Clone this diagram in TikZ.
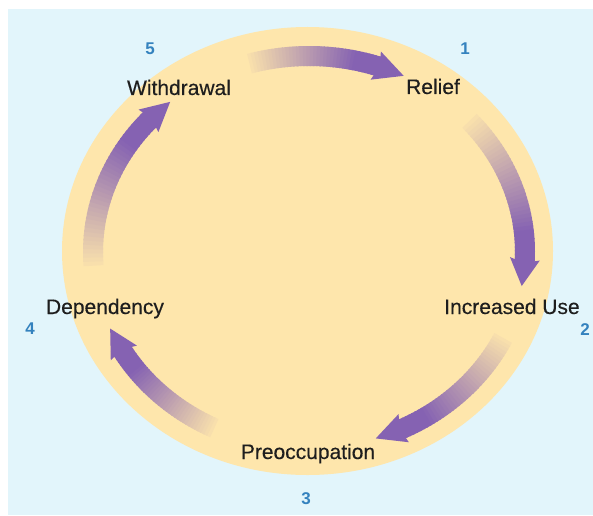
\documentclass[tikz,border=0pt]{standalone}
\usepackage{fontspec}
\setmainfont{Liberation Sans}
\newfontfamily\medfont[FakeBold=0.35]{Liberation Sans}
\usetikzlibrary{calc}
\definecolor{bgblue}{RGB}{226,245,251}
\definecolor{circ}{RGB}{254,230,172}
\definecolor{arrowc}{RGB}{133,98,178}
\definecolor{numblue}{RGB}{52,130,190}
\definecolor{txt}{RGB}{30,30,30}
\begin{document}
\begin{tikzpicture}[x=1pt,y=1pt,
  lbl/.style={font=\medfont\fontsize{21}{24}\selectfont, text=txt, anchor=base, inner sep=0pt},
  num/.style={font=\fontsize{17}{20}\selectfont\bfseries, text=numblue, anchor=base, inner sep=0pt}]
\useasboundingbox (0,0) rectangle (593,515);
\fill[white] (0,0) rectangle (593,515);
\fill[bgblue] (8,0) rectangle (593,506);
\fill[circ] (307.5,264) ellipse [x radius=245.5, y radius=224];
\def\cx{309}\def\cy{263}\def\rx{216}\def\ry{196}
\foreach \s/\e [count=\k] in {106/64, 42/-10, -26/-72, 244/203, 184/130} {
  \pgfmathsetmacro\hb{\e+8}
  \coordinate (tail\k) at ({\cx+\rx*cos(\s)},{\cy+\ry*sin(\s)});
  \coordinate (tip\k) at ({\cx+\rx*cos(\e)},{\cy+\ry*sin(\e)});
  \coordinate (base\k) at ({\cx+\rx*cos(\hb)},{\cy+\ry*sin(\hb)});
  \foreach \i in {0,...,39} {
    \pgfmathsetmacro\ta{\s+(\hb-2-\s)*\i/40}
    \pgfmathsetmacro\tb{\s+(\hb-2-\s)*(\i+1.4)/40}
    \pgfmathsetmacro\p{min(100,5+120*\i/39)}
    \draw[line width=20pt, arrowc!\p!circ]
      ({\cx+\rx*cos(\ta)},{\cy+\ry*sin(\ta)})
      arc[start angle=\ta, end angle=\tb, x radius=\rx, y radius=\ry];
  }
  \fill[arrowc] ($(base\k)!15pt!90:(tip\k)$) -- (tip\k)
    -- ($(base\k)!15pt!-90:(tip\k)$) -- ($(base\k)!4pt!(tip\k)$) -- cycle;
}
\node[lbl] (relief) at (433,421) {Relief};
\node[lbl] (incr) at (512,201) {Increased Use};
\node[lbl] (preoc) at (308,56) {Preoccupation};
\node[lbl] (dep) at (105,201) {Dependency};
\node[lbl] (withd) at (179,420) {Withdrawal};
\node[num] (n1) at (465,460) {1};
\node[num] (n2) at (585,180) {2};
\node[num] (n3) at (306,11) {3};
\node[num] (n4) at (30,181) {4};
\node[num] (n5) at (150,460) {5};
\end{tikzpicture}
\end{document}
